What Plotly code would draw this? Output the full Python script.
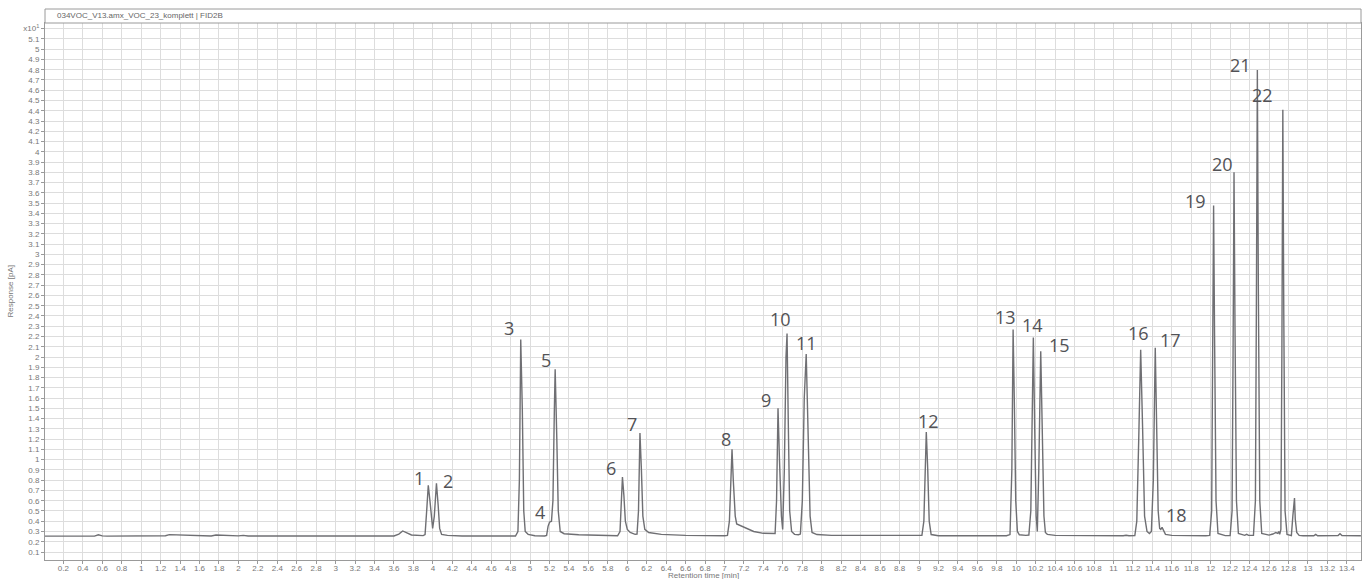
import plotly.graph_objects as go

# Chromatogram trace vertices (time in min, response in pA x10)
time_min = [
    0.01, 0.52, 0.56, 0.60, 0.65,
    1.12, 1.17, 1.22, 1.25, 1.29, 1.35, 1.45, 1.55, 1.60,
    1.72, 1.77, 1.83, 1.88, 2.00, 2.05, 2.10,
    3.60, 3.65, 3.69, 3.73, 3.78, 3.90,
    3.92, 3.94, 3.953, 3.97, 3.99, 3.998,
    4.015, 4.03, 4.037, 4.055, 4.07, 4.09, 4.15, 4.30,
    4.85, 4.875, 4.89, 4.904, 4.92, 4.935, 4.95, 4.98, 5.05, 5.15,
    5.17, 5.185, 5.20, 5.22, 5.235, 5.25, 5.258, 5.275, 5.29, 5.31, 5.35, 5.50, 5.70, 5.90,
    5.925, 5.94, 5.95, 5.965, 5.98, 6.00, 6.03, 6.08,
    6.10, 6.115, 6.13, 6.145, 6.16, 6.18, 6.22, 6.35, 6.60, 7.00,
    7.03, 7.05, 7.065, 7.077, 7.09, 7.11, 7.125, 7.18, 7.22, 7.30, 7.40, 7.50,
    7.52, 7.535, 7.55, 7.565, 7.585, 7.598, 7.615, 7.632, 7.643, 7.655, 7.67, 7.69, 7.72, 7.76,
    7.78, 7.80, 7.82, 7.84, 7.86, 7.88, 7.90, 7.95, 8.10, 8.50, 9.00,
    9.03, 9.05, 9.065, 9.075, 9.09, 9.105, 9.125, 9.20,
    9.90, 9.936, 9.955, 9.968, 9.98, 9.995, 10.012, 10.032, 10.10,
    10.13, 10.15, 10.163, 10.176, 10.19, 10.205, 10.217, 10.232, 10.252, 10.27, 10.285, 10.30, 10.32, 10.40,
    10.78, 10.81, 10.84, 11.10, 11.13, 11.16, 11.22,
    11.24, 11.26, 11.28, 11.30, 11.32, 11.345, 11.37,
    11.39, 11.41, 11.43, 11.445, 11.46, 11.475, 11.487, 11.50, 11.515, 11.535, 11.60, 11.80, 11.95,
    11.99, 12.01, 12.02, 12.03, 12.04, 12.055, 12.075, 12.15,
    12.20, 12.22, 12.23, 12.24, 12.25, 12.265, 12.285, 12.35, 12.37, 12.39, 12.44,
    12.46, 12.47, 12.48, 12.49, 12.505, 12.525, 12.60, 12.64, 12.67, 12.69, 12.70, 12.71,
    12.722, 12.732, 12.742, 12.752, 12.765, 12.785, 12.83,
    12.845, 12.855, 12.862, 12.87, 12.885, 12.91, 12.95,
    13.06, 13.08, 13.10, 13.31, 13.33, 13.35, 13.545,
]
response = [
    0.255, 0.255, 0.268, 0.257, 0.255,
    0.256, 0.263, 0.262, 0.258, 0.269, 0.267, 0.264, 0.261, 0.256,
    0.256, 0.265, 0.262, 0.256, 0.257, 0.262, 0.256,
    0.256, 0.275, 0.305, 0.287, 0.266, 0.260,
    0.270, 0.550, 0.750, 0.600, 0.360, 0.330,
    0.450, 0.700, 0.770, 0.550, 0.330, 0.272, 0.262, 0.256,
    0.256, 0.300, 0.800, 2.170, 1.500, 0.500, 0.300, 0.272, 0.258, 0.256,
    0.262, 0.350, 0.390, 0.400, 0.600, 1.500, 1.880, 1.200, 0.500, 0.300, 0.278, 0.268, 0.260, 0.258,
    0.300, 0.600, 0.830, 0.650, 0.400, 0.320, 0.290, 0.272,
    0.275, 0.500, 1.260, 0.900, 0.450, 0.320, 0.290, 0.272, 0.262, 0.258,
    0.262, 0.400, 0.900, 1.100, 0.800, 0.450, 0.373, 0.350, 0.330, 0.300, 0.282, 0.275,
    0.280, 0.600, 1.500, 1.000, 0.450, 0.320, 0.900, 2.000, 2.230, 1.400, 0.500, 0.300, 0.272, 0.268,
    0.275, 0.600, 1.600, 2.030, 1.300, 0.450, 0.290, 0.270, 0.262, 0.260, 0.258,
    0.262, 0.400, 0.900, 1.270, 0.900, 0.400, 0.270, 0.258,
    0.258, 0.270, 0.900, 2.268, 1.600, 0.600, 0.300, 0.268, 0.262,
    0.265, 0.500, 1.500, 2.190, 1.300, 0.450, 0.300, 0.900, 2.055, 1.200, 0.450, 0.290, 0.272, 0.262,
    0.258, 0.264, 0.258, 0.258, 0.263, 0.258, 0.260,
    0.400, 1.200, 2.070, 1.300, 0.450, 0.300, 0.280,
    0.300, 0.800, 2.090, 1.300, 0.500, 0.330, 0.320, 0.340, 0.310, 0.272, 0.262, 0.258, 0.258,
    0.262, 0.500, 2.000, 3.476, 2.200, 0.600, 0.280, 0.260,
    0.260, 0.500, 2.000, 3.800, 2.300, 0.600, 0.280, 0.262, 0.272, 0.262, 0.262,
    0.600, 2.500, 4.796, 2.700, 0.600, 0.280, 0.265, 0.275, 0.290, 0.282, 0.300, 0.272,
    0.320, 2.000, 4.410, 2.400, 0.500, 0.272, 0.260,
    0.450, 0.600, 0.625, 0.420, 0.290, 0.262, 0.258,
    0.258, 0.272, 0.258, 0.260, 0.278, 0.260, 0.258,
]

# Peak number labels (text, position in data coordinates)
peak_ids = [str(i) for i in range(1, 23)]
label_t = [3.858, 4.156, 4.784, 5.103, 5.164, 5.833, 6.048, 7.015, 7.422, 7.577,
           7.840, 9.093, 9.885, 10.163, 10.441, 11.253, 11.583, 11.644, 11.840,
           12.118, 12.302, 12.529]
label_v = [0.820, 0.791, 2.279, 0.489, 1.968, 0.917, 1.345, 1.200, 1.578, 2.367,
           2.136, 1.374, 2.386, 2.308, 2.113, 2.230, 2.162, 0.460, 3.524,
           3.884, 4.847, 4.556]

# y tick labels: 0.1 ... 5.1, and the exponent marker in place of 5.2
y_tick_vals = [round(0.1 * i, 1) for i in range(1, 53)]
y_tick_text = [f"{v:g}" for v in y_tick_vals[:-1]] + ["x10<sup>1</sup>"]

chart_title = "034VOC_V13.amx_VOC_23_komplett | FID2B"
x_title = "Retention time [min]"
y_title = "Response [pA]"

W, H = 1367, 579
ML, MR, MT, MB = 45, 6, 23, 19
plot_h = H - MT - MB
plot_w = W - ML - MR

fig = go.Figure()
fig.add_trace(go.Scatter(
    x=time_min, y=response, mode="lines",
    line=dict(color="#6f6f73", width=1.4),
    hoverinfo="skip", showlegend=False,
))

for txt, t, v in zip(peak_ids, label_t, label_v):
    fig.add_annotation(
        x=t, y=v, xref="x", yref="y", text=txt, showarrow=False,
        font=dict(family="Open Sans", size=18, color="#525256"),
        xanchor="center", yanchor="middle",
    )

axis_font = dict(family="Liberation Sans, Arial", size=8, color="#777777")

fig.update_xaxes(
    range=[0.011, 13.546], tick0=0, dtick=0.2,
    showgrid=True, gridcolor="#dddddd", gridwidth=1,
    showline=True, linecolor="#9a9a9a", linewidth=1, mirror=True,
    ticks="outside", ticklen=3, tickcolor="#9a9a9a", ticklabelstandoff=-3,
    tickfont=axis_font, zeroline=False, automargin=False,
)
fig.update_yaxes(
    range=[0.022, 5.255], tickmode="array", tickvals=y_tick_vals, ticktext=y_tick_text,
    showgrid=True, gridcolor="#dddddd", gridwidth=1,
    showline=True, linecolor="#9a9a9a", linewidth=1, mirror=True,
    ticks="outside", ticklen=3, tickcolor="#9a9a9a",
    tickfont=axis_font, zeroline=False, automargin=False,
)

# Title strip above the plot area
strip_h = 14 / plot_h
fig.add_shape(type="rect", xref="paper", yref="paper", x0=0, x1=1, y0=1, y1=1 + strip_h,
              line=dict(color="#9a9a9a", width=1), fillcolor="white", layer="above")
fig.add_annotation(xref="paper", yref="paper", x=10 / plot_w, y=1 + strip_h / 2,
                   text=chart_title, showarrow=False, xanchor="left", yanchor="middle",
                   font=dict(family="Liberation Sans, Arial", size=8, color="#666666"))
# axis titles
fig.add_annotation(xref="paper", yref="paper", x=0.5, y=-15.5 / plot_h,
                   text=x_title, showarrow=False, xanchor="center", yanchor="middle",
                   font=dict(family="Liberation Sans, Arial", size=8, color="#777777"))
fig.add_annotation(xref="paper", yref="paper", x=-35 / plot_w, y=0.5,
                   text=y_title, showarrow=False, xanchor="center", yanchor="middle",
                   textangle=-90,
                   font=dict(family="Liberation Sans, Arial", size=8, color="#777777"))

fig.update_layout(
    width=W, height=H,
    margin=dict(l=ML, r=MR, t=MT, b=MB, pad=0, autoexpand=False),
    paper_bgcolor="white", plot_bgcolor="white",
    showlegend=False,
)

fig.write_html("out.html", config={"displayModeBar": False},
               post_script="document.body.style.margin='0';document.body.style.overflow='hidden';")
